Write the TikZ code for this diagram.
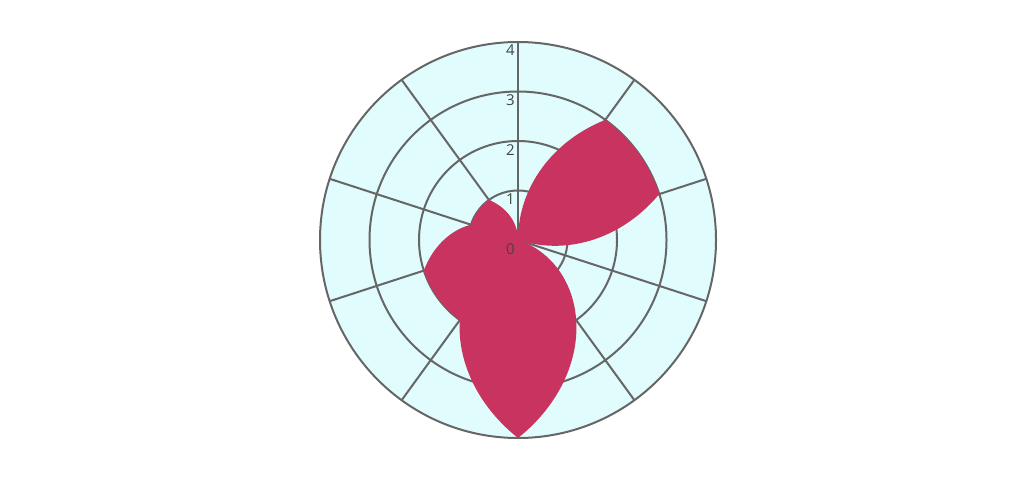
\documentclass[tikz,border=0pt]{standalone}
\usepackage{fontspec}
\setmainfont{Open Sans}
\definecolor{bgc}{HTML}{E0FCFC}
\definecolor{gridc}{HTML}{666666}
\definecolor{petalc}{HTML}{C9335F}
\definecolor{tickc}{HTML}{444444}
\begin{document}
\begin{tikzpicture}[x=1pt,y=1pt,
  gridline/.style={draw=gridc,line width=2pt},
  petal/.style={fill=petalc},
  ticklab/.style={text=tickc,font=\fontsize{15}{15}\selectfont,inner sep=0pt,anchor=north east}]
\useasboundingbox (0,0) rectangle (1024,477);
\def\R{49.5}
\coordinate (c) at (518,237);
\fill[bgc] (c) circle (4*\R);
\foreach \k in {1,2,3} \draw[gridline] (c) circle (\k*\R);
\foreach \t in {0,36,...,324} \draw[gridline] (c) -- ++({4*\R*sin(\t)},{4*\R*cos(\t)});
\draw[gridline] (c) circle (4*\R);
\fill[petal] (c)
 \foreach \a/\b/\p/\q in {0/36/0/3,36/72/3/3,72/108/3/0,108/144/0/2,144/180/2/4,180/216/4/2,216/252/2/2,252/288/2/1,288/324/1/1,324/360/1/0}{
  -- plot[domain=\a:\b,samples=30] ({518+\R*(\p+(\q-\p)*(\x-\a)/36)*sin(\x)},{237+\R*(\p+(\q-\p)*(\x-\a)/36)*cos(\x)})
 } -- cycle;
\foreach \k in {0,1,2,3,4} \node[ticklab] (t\k) at (515,{237+\k*\R-3}) {\k};
\end{tikzpicture}
\end{document}
